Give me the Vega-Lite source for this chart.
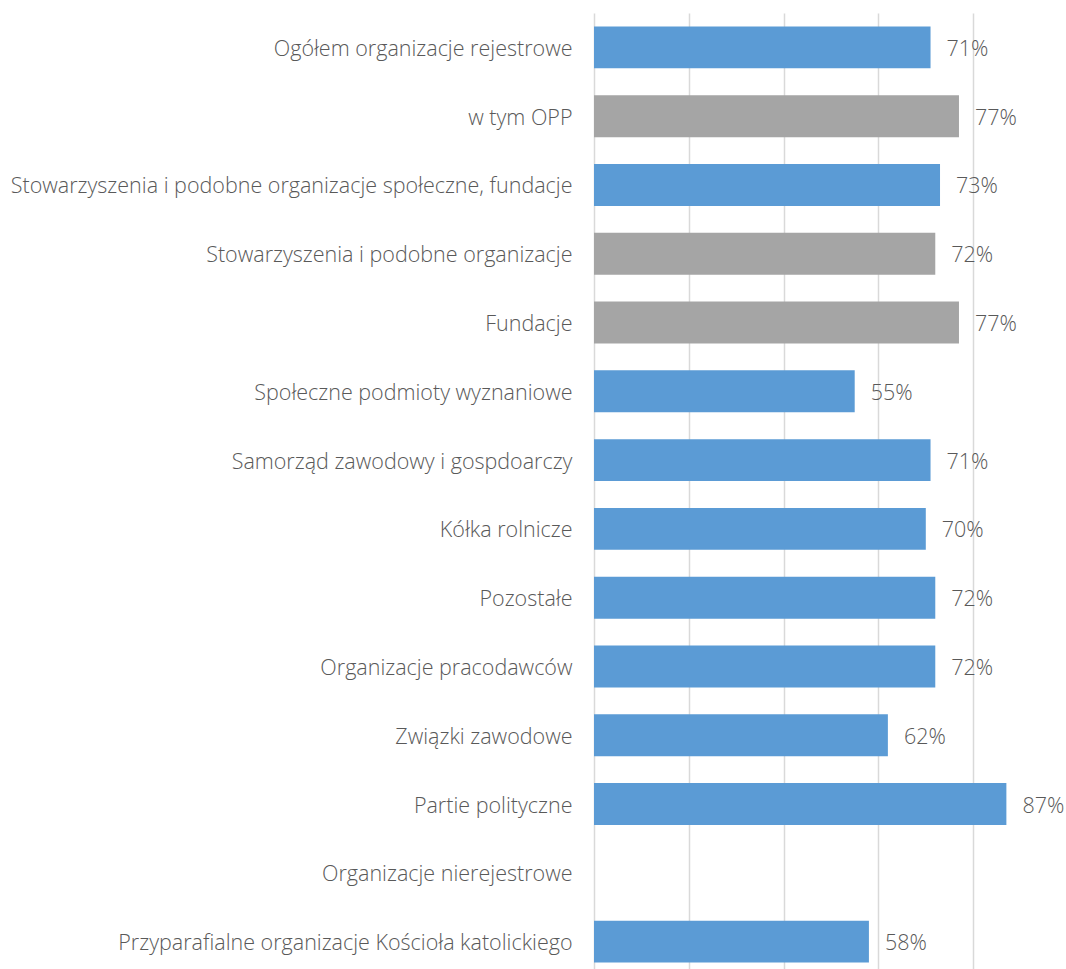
{
  "$schema": "https://vega.github.io/schema/vega-lite/v6.json",
  "autosize": {"type": "none"},
  "padding": {"left": 594, "top": 13, "right": 0, "bottom": 0},
  "width": 474,
  "height": 963,
  "background": "white",
  "config": {"view": {"stroke": null}, "font": "Open Sans"},
  "data": {"values": [
    {"kategoria": "Ogółem organizacje rejestrowe", "wartosc": 0.71, "grupa": "a"},
    {"kategoria": "w tym OPP", "wartosc": 0.77, "grupa": "b"},
    {"kategoria": "Stowarzyszenia i podobne organizacje społeczne, fundacje", "wartosc": 0.73, "grupa": "a"},
    {"kategoria": "Stowarzyszenia i podobne organizacje", "wartosc": 0.72, "grupa": "b"},
    {"kategoria": "Fundacje", "wartosc": 0.77, "grupa": "b"},
    {"kategoria": "Społeczne podmioty wyznaniowe", "wartosc": 0.55, "grupa": "a"},
    {"kategoria": "Samorząd zawodowy i gospdoarczy", "wartosc": 0.71, "grupa": "a"},
    {"kategoria": "Kółka rolnicze", "wartosc": 0.70, "grupa": "a"},
    {"kategoria": "Pozostałe", "wartosc": 0.72, "grupa": "a"},
    {"kategoria": "Organizacje pracodawców", "wartosc": 0.72, "grupa": "a"},
    {"kategoria": "Związki zawodowe", "wartosc": 0.62, "grupa": "a"},
    {"kategoria": "Partie polityczne", "wartosc": 0.87, "grupa": "a"},
    {"kategoria": "Organizacje nierejestrowe", "wartosc": null, "grupa": "a"},
    {"kategoria": "Przyparafialne organizacje Kościoła katolickiego", "wartosc": 0.58, "grupa": "a"}
  ]},
  "encoding": {
    "y": {
      "field": "kategoria", "type": "nominal",
      "scale": {
        "domain": ["Ogółem organizacje rejestrowe", "w tym OPP", "Stowarzyszenia i podobne organizacje społeczne, fundacje", "Stowarzyszenia i podobne organizacje", "Fundacje", "Społeczne podmioty wyznaniowe", "Samorząd zawodowy i gospdoarczy", "Kółka rolnicze", "Pozostałe", "Organizacje pracodawców", "Związki zawodowe", "Partie polityczne", "Organizacje nierejestrowe", "Przyparafialne organizacje Kościoła katolickiego"],
        "paddingInner": 0.39, "paddingOuter": 0.195
      },
      "axis": {"title": null, "domain": false, "ticks": false, "labelPadding": 22, "labelOffset": 2.5, "labelFontSize": 21.5, "labelFontWeight": 300, "labelColor": "#595959", "labelFont": "Open Sans", "labelLimit": 700}
    },
    "x": {
      "field": "wartosc", "type": "quantitative",
      "scale": {"domain": [0, 1], "nice": false},
      "axis": {"title": null, "labels": false, "ticks": false, "domain": false, "values": [0, 0.2, 0.4, 0.6, 0.8, 1], "grid": true, "gridColor": "#D9D9D9", "gridWidth": 1.5}
    }
  },
  "layer": [
    {
      "mark": {"type": "bar"},
      "encoding": {
        "color": {"field": "grupa", "type": "nominal", "scale": {"domain": ["a", "b"], "range": ["#5B9BD5", "#A5A5A5"]}, "legend": null}
      }
    },
    {
      "mark": {"type": "text", "align": "left", "baseline": "middle", "dx": 16, "dy": 2.5, "fontSize": 21.5, "fontWeight": 300, "color": "#595959", "font": "Open Sans"},
      "encoding": {"text": {"field": "wartosc", "type": "quantitative", "format": ".0%"}}
    }
  ]
}
